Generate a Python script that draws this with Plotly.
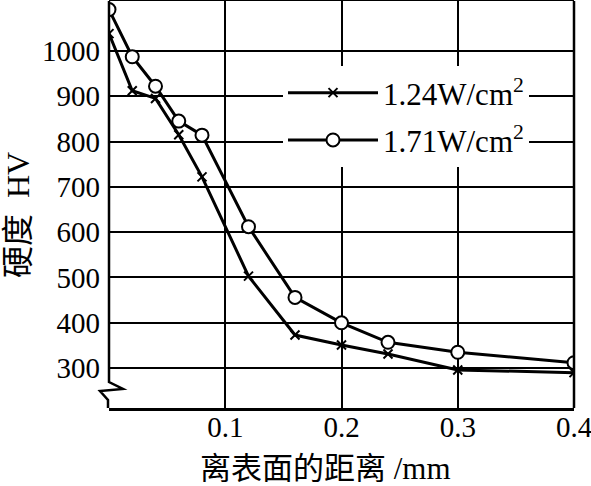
import plotly.graph_objects as go

# Data
distance_mm = [0.0, 0.02, 0.04, 0.06, 0.08, 0.12, 0.16, 0.20, 0.24, 0.30, 0.40]
hv_124 = [1038, 912, 895, 815, 722, 503, 373, 351, 331, 296, 290]
hv_171 = [1091, 987, 922, 845, 814, 612, 456, 400, 357, 335, 312]
series_names = ["1.24W/cm<sup>2</sup>", "1.71W/cm<sup>2</sup>"]
x_ticks = [0.1, 0.2, 0.3, 0.4]
y_ticks = [300, 400, 500, 600, 700, 800, 900, 1000]
x_title = "离表面的距离 /mm"
y_title = "硬度  HV"

W, H = 591, 486
ML, MR, MT, MB = 109, 17, 1, 78
PW, PH = W - ML - MR, H - MT - MB

FONT = "Liberation Serif, Noto Sans CJK SC, serif"
TICKFONT = dict(family="Liberation Serif", size=29, color="black")

fig = go.Figure()
fig.add_trace(go.Scatter(
    x=distance_mm, y=hv_124, name=series_names[0], mode="lines+markers",
    legendgroup="a",
    line=dict(color="black", width=3),
    marker=dict(symbol="x-thin", size=9, color="black", line=dict(color="black", width=2)),
))
fig.add_trace(go.Scatter(
    x=distance_mm, y=hv_171, name=series_names[1], mode="lines+markers",
    legendgroup="b",
    line=dict(color="black", width=3),
    marker=dict(symbol="circle", size=13, color="white", line=dict(color="black", width=2)),
))

def px_x(p):
    return (p - ML) / PW

def px_y(p):
    return 1 - (p - MT) / PH

# left axis line with break symbol (pixel-based, converted to paper)
pts = [(109, 1), (109, 382), (123, 389), (100, 391), (108, 400), (108, 408)]
path = "M " + " L ".join(f"{px_x(a):.5f},{px_y(b):.5f}" for a, b in pts)
shapes = [
    dict(type="path", xref="paper", yref="paper", path=path,
         line=dict(color="black", width=2.5)),
    dict(type="line", xref="paper", yref="paper", x0=1, x1=1, y0=0, y1=1,
         line=dict(color="black", width=2.5)),
]

annotations = [
    dict(text=x_title, xref="paper", yref="paper", x=px_x(325), y=px_y(468),
         xanchor="center", yanchor="middle", showarrow=False, borderpad=0,
         font=dict(family=FONT, size=31, color="black")),
    dict(text=y_title, xref="paper", yref="paper", x=px_x(18), y=px_y(215),
         xanchor="center", yanchor="middle", showarrow=False, textangle=-90,
         borderpad=0,
         font=dict(family=FONT, size=32, color="black")),
]

fig.update_layout(
    template="none",
    width=W, height=H,
    margin=dict(l=ML, r=MR, t=MT, b=MB, pad=0, autoexpand=False),
    paper_bgcolor="white", plot_bgcolor="white",
    font=dict(family=FONT, size=27, color="black"),
    showlegend=True,
    legend=dict(
        x=px_x(283), y=px_y(66), xanchor="left", yanchor="top",
        bgcolor="white", borderwidth=0,
        font=dict(family="Liberation Serif", size=31, color="black"),
        itemwidth=90, tracegroupgap=4,
    ),
    shapes=shapes,
    annotations=annotations,
    xaxis=dict(
        range=[0, 0.4], tickvals=x_ticks, ticktext=[str(v) for v in x_ticks],
        tickfont=TICKFONT, ticklabeloverflow="allow", automargin=False,
        showgrid=True, gridcolor="black", gridwidth=2,
        showline=True, linecolor="black", linewidth=2.5, mirror=True,
        ticks="", zeroline=False, ticklabelstandoff=-9,
    ),
    yaxis=dict(
        range=[212, 1110], tickvals=y_ticks, ticktext=[str(v) for v in y_ticks],
        tickfont=TICKFONT, ticklabeloverflow="allow", automargin=False,
        showgrid=True, gridcolor="black", gridwidth=2,
        showline=False, ticks="", zeroline=False, ticklabelstandoff=8,
    ),
)

fig.write_html(
    "out.html",
    config={"displayModeBar": False},
    post_script="document.body.style.margin='0';document.body.style.overflow='hidden';",
)
